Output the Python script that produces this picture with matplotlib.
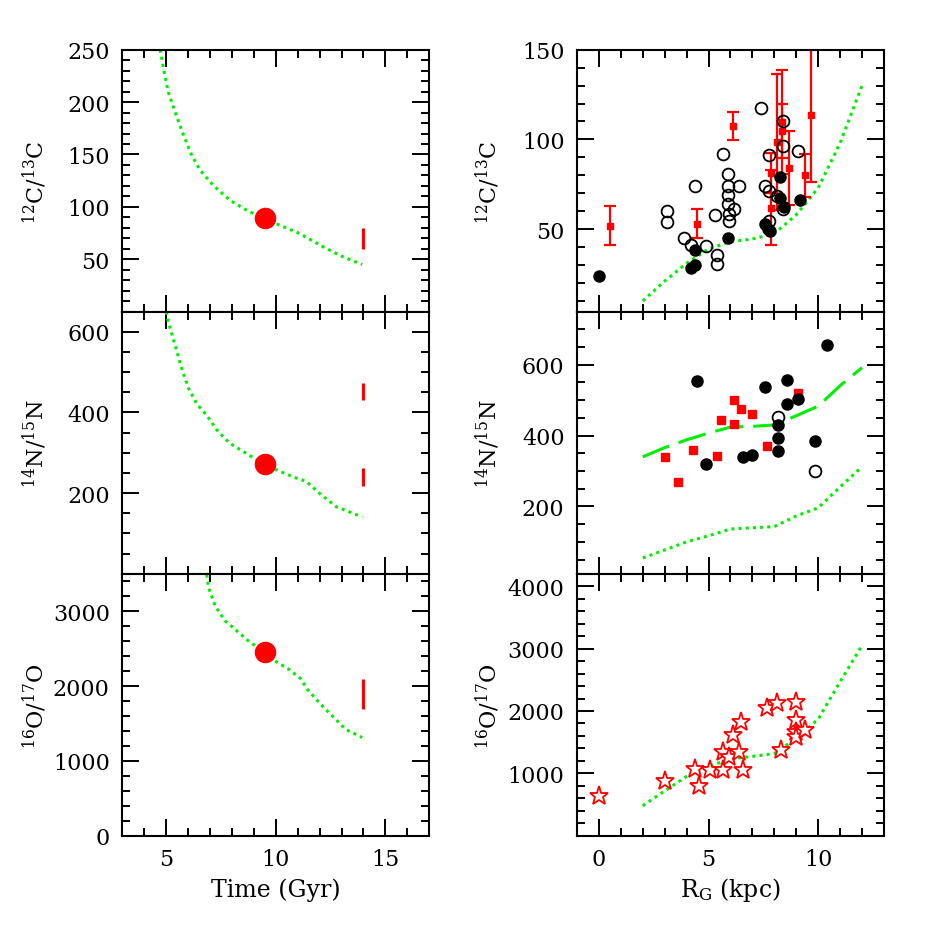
import matplotlib
matplotlib.use("Agg")
import matplotlib.pyplot as plt
from matplotlib.ticker import MultipleLocator, FixedLocator

plt.rcParams['font.family'] = ['DejaVu Serif']
plt.rcParams['mathtext.fontset'] = 'dejavuserif'

# ---------------- data: left column (time evolution) ----------------
t_c = [4.73, 4.91, 5.1, 5.41, 5.71, 6.17, 6.55, 7.15, 7.91, 8.67, 9.47, 10.18, 11.09, 11.7, 12.3, 13.06, 13.94]
c_t = [250, 228.5, 209.5, 190.5, 173, 149, 135, 120.6, 106.3, 96.8, 89, 82.5, 74.6, 67.3, 60.3, 52.4, 45]

t_n = [5.0, 5.1, 5.41, 5.71, 6.02, 6.39, 6.85, 7.38, 7.91, 8.67, 9.47, 10.18, 10.79, 11.39, 12.0, 12.76, 13.94]
n_t = [650, 625, 567, 509, 460, 422, 393, 352, 323, 298, 271, 254, 240, 229, 199, 166, 141]

t_o = [6.85, 6.94, 7.24, 7.7, 8.15, 8.76, 9.47, 9.85, 10.6, 11.14, 11.44, 12.05, 12.58, 13.18, 13.94]
o_t = [3489, 3312, 3067, 2867, 2756, 2600, 2459, 2356, 2223, 2098, 1956, 1756, 1600, 1423, 1312]

t_sun = 9.5
sun_c, sun_n, sun_o = 89, 272, 2460
t_ism = 14.0
ism_c = [(60, 80)]
ism_n = [(217, 263), (430, 472)]
ism_o = [(1690, 2090)]

# ---------------- data: right column (galactic gradients) ----------------
R_model = [2, 3, 4, 5, 6, 7, 8, 9, 10, 11, 12]
c_model = [10, 21, 31, 39, 43, 44.5, 47.5, 58, 73, 98, 130]
n_model_dash = [340, 366, 388, 407, 424, 426, 430, 456, 483, 541, 592]
n_model_dot = [54, 77, 100, 117, 136, 139.5, 143, 173, 196, 255, 312]
o_model = [480, 720, 950, 1110, 1232, 1272, 1318, 1560, 1870, 2470, 3050]

c_fill_R = [0, 4.2, 4.38, 4.38, 5.9, 7.57, 7.72, 7.8, 8.28, 8.28, 8.45, 9.17]
c_fill = [23.8, 28.4, 30.2, 38.6, 44.8, 53, 50, 49, 79, 67.5, 62.4, 66.2]

c_open_R = [3.09, 3.09, 3.88, 4.2, 4.38, 4.88, 5.29, 5.37, 5.37, 5.67, 5.9, 5.9, 5.9, 5.9,
            5.92, 5.92, 6.16, 6.4, 7.39, 7.77, 7.57, 7.75, 8.1, 8.4, 8.4, 8.4, 9.09, 7.75]
c_open = [60, 54, 44.8, 41.4, 74, 40.5, 58.1, 35.8, 30.6, 92, 80.9, 74, 69, 64.1,
          58.5, 54.8, 61, 74, 117.5, 91.2, 74.3, 71.2, 68.4, 110.5, 96.3, 61, 93.3, 54.5]

c_red_R = [0.5, 4.48, 6.1, 7.85, 7.87, 8.1, 8.33, 8.35, 8.68, 9.39, 9.67]
c_red = [52, 53, 107.5, 81.4, 62, 98.5, 109.7, 104.7, 84.2, 80.1, 113.4]
c_red_err = [11, 8, 8, 11, 21, 38, 29, 15, 20.5, 12, 37]

n_fill_R = [4.48, 4.88, 6.58, 6.99, 7.58, 8.18, 8.18, 8.18, 8.59, 8.59, 9.09, 9.85, 10.38]
n_fill = [554, 320, 340, 344, 536, 431, 392, 356, 556, 490, 502, 386, 655]
n_open_R = [8.18, 9.85]
n_open = [452, 301]
n_red_R = [3.0, 3.59, 4.29, 5.38, 5.59, 6.17, 6.17, 6.48, 6.98, 7.67, 9.09]
n_red = [339, 268, 358, 343, 445, 500, 433, 475, 461, 371, 521]

o_star_R = [0, 3.01, 4.38, 4.56, 5.06, 5.67, 5.67, 5.94, 6.1, 6.37, 6.48, 6.58,
            7.68, 8.13, 8.3, 8.98, 8.98, 8.98, 8.98, 9.39]
o_star = [640, 882, 1070, 801, 1059, 1348, 1059, 1258, 1617, 1348, 1821, 1059,
          2047, 2127, 1376, 2143, 1863, 1670, 1580, 1702]

# ---------------- styling ----------------
GREEN = '#00ee00'
RED = '#ff0000'
DOT = (0, (1.0, 1.35))
DASH = (0, (9.3, 3.3))

fig = plt.figure(figsize=(9.37, 9.37), dpi=100)
W = 0.3276
H = 0.2796
bottoms = [0.6663, 0.3867, 0.1070]
lefts = [0.1305, 0.6158]

axes = [[fig.add_axes([lx, b, W, H]) for lx in lefts] for b in bottoms]


def style(ax, xmaj, xmin, ymaj, ymin, labelx):
    ax.xaxis.set_major_locator(MultipleLocator(xmaj))
    ax.xaxis.set_minor_locator(MultipleLocator(xmin))
    ax.yaxis.set_major_locator(FixedLocator(ymaj))
    ax.yaxis.set_minor_locator(MultipleLocator(ymin))
    ax.tick_params(which='both', direction='in', top=True, right=True, width=1.4,
                   labelsize=16, labelbottom=labelx)
    ax.tick_params(which='major', length=12, pad=9)
    ax.tick_params(which='minor', length=6)
    for s in ax.spines.values():
        s.set_linewidth(1.5)


# left column
ax = axes[0][0]
ax.plot(t_c, c_t, color=GREEN, lw=2.2, ls=DOT)
ax.plot([t_sun], [sun_c], 'o', color=RED, ms=14.5)
for lo, hi in ism_c:
    ax.vlines(t_ism, lo, hi, color=RED, lw=2.2)
ax.set_xlim(3, 17)
ax.set_ylim(0, 250)
style(ax, 5, 1, [50, 100, 150, 200, 250], 10, False)

ax = axes[1][0]
ax.plot(t_n, n_t, color=GREEN, lw=2.2, ls=DOT)
ax.plot([t_sun], [sun_n], 'o', color=RED, ms=14.5)
for lo, hi in ism_n:
    ax.vlines(t_ism, lo, hi, color=RED, lw=2.2)
ax.set_xlim(3, 17)
ax.set_ylim(0, 650)
style(ax, 5, 1, [200, 400, 600], 50, False)

ax = axes[2][0]
ax.plot(t_o, o_t, color=GREEN, lw=2.2, ls=DOT)
ax.plot([t_sun], [sun_o], 'o', color=RED, ms=14.5)
for lo, hi in ism_o:
    ax.vlines(t_ism, lo, hi, color=RED, lw=2.2)
ax.set_xlim(3, 17)
ax.set_ylim(0, 3500)
style(ax, 5, 1, [0, 1000, 2000, 3000], 200, True)

# right column
ax = axes[0][1]
ax.plot(R_model, c_model, color=GREEN, lw=2.2, ls=DOT, zorder=1)
ax.errorbar(c_red_R, c_red, yerr=c_red_err, fmt='s', color=RED, ms=5,
            elinewidth=1.6, capsize=4, capthick=1.6, zorder=2)
ax.plot(c_open_R, c_open, 'o', mfc='none', mec='black', mew=1.3, ms=8.5, zorder=3)
ax.plot(c_fill_R, c_fill, 'o', color='black', ms=8, zorder=4)
ax.set_xlim(-1, 13)
ax.set_ylim(4, 150)
style(ax, 5, 1, [50, 100, 150], 10, False)

ax = axes[1][1]
ax.plot(R_model, n_model_dash, color=GREEN, lw=2.2, ls=DASH, zorder=1)
ax.plot(R_model, n_model_dot, color=GREEN, lw=2.2, ls=DOT, zorder=1)
ax.plot(n_red_R, n_red, 's', color=RED, ms=5.5, zorder=2)
ax.plot(n_open_R, n_open, 'o', mfc='none', mec='black', mew=1.3, ms=8.5, zorder=3)
ax.plot(n_fill_R, n_fill, 'o', color='black', ms=8, zorder=4)
ax.set_xlim(-1, 13)
ax.set_ylim(10, 750)
style(ax, 5, 1, [200, 400, 600], 50, False)

ax = axes[2][1]
ax.plot(R_model, o_model, color=GREEN, lw=2.2, ls=DOT, zorder=1)
ax.plot(o_star_R, o_star, '*', mfc='white', mec=RED, mew=1.3, ms=14, zorder=2)
ax.set_xlim(-1, 13)
ax.set_ylim(0, 4200)
style(ax, 5, 1, [1000, 2000, 3000, 4000], 200, True)

# labels
ylabs = [r'$^{12}$C/$^{13}$C', r'$^{14}$N/$^{15}$N', r'$^{16}$O/$^{17}$O']
ycent = [0.8058, 0.5261, 0.2468]
for lab, yc in zip(ylabs, ycent):
    fig.text(0.0374, yc, lab, rotation=90, ha='center', va='center', fontsize=16)
    fig.text(0.5205, yc, lab, rotation=90, ha='center', va='center', fontsize=16)
fig.text(0.2946, 0.0502, 'Time (Gyr)', ha='center', va='center', fontsize=17)
fig.text(0.7795, 0.0502, r'R$_{\rm G}$ (kpc)', ha='center', va='center', fontsize=17)

fig.savefig('out.png', dpi=100)
